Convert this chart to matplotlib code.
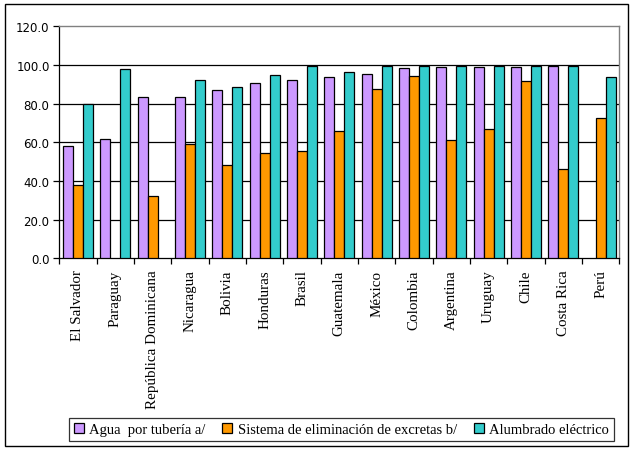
import numpy as np
import matplotlib
matplotlib.use("Agg")
import matplotlib.pyplot as plt
from matplotlib.patches import Rectangle

countries = ["El Salvador", "Paraguay", "República Dominicana", "Nicaragua",
             "Bolivia", "Honduras", "Brasil", "Guatemala", "México", "Colombia",
             "Argentina", "Uruguay", "Chile", "Costa Rica", "Perú"]
agua = [58.1, 61.6, 83.3, 83.3, 87.1, 90.5, 92.1, 93.6, 95.2, 98.3,
        98.8, 98.8, 98.8, 99.3, np.nan]
excretas = [37.8, np.nan, 32.1, 59.0, 48.1, 54.3, 55.3, 65.7, 87.6, 94.1,
            61.0, 66.7, 91.6, 46.0, 72.6]
alumbrado = [79.8, 97.8, np.nan, 92.1, 88.4, 94.7, 99.3, 96.2, 99.3, 99.3,
             99.7, 99.3, 99.7, 99.7, 93.6]
series_names = ["Agua  por tubería a/", "Sistema de eliminación de excretas b/",
                "Alumbrado eléctrico"]
colors = ["#CC99FF", "#FF9900", "#33CCCC"]

fig = plt.figure(figsize=(6.34, 4.52), dpi=100)
ax = fig.add_axes([0.0935, 0.4263, 0.8833, 0.5133])

x = np.arange(len(countries))
w = 0.268
for i, (vals, col, name) in enumerate(zip([agua, excretas, alumbrado], colors, series_names)):
    ax.bar(x + (i - 1) * w, vals, width=w, color=col, edgecolor="black",
           linewidth=0.9, label=name, zorder=3)

ax.set_xlim(-0.5, len(countries) - 0.5)
ax.set_ylim(0, 120)
ax.set_yticks(np.arange(0, 121, 20))
ax.set_yticklabels([f"{v:.1f}" for v in np.arange(0, 121, 20)],
                   fontsize=8.5, family="DejaVu Sans")
for y in range(20, 101, 20):
    ax.axhline(y, color="black", linewidth=0.9, zorder=1)

ax.set_xticks(np.arange(-0.5, len(countries), 1.0))
ax.set_xticklabels([])
ax.set_xticks(x, minor=True)
ax.set_xticklabels(countries, minor=True, rotation=90, fontsize=10.8,
                   family="Liberation Serif", va="top")
ax.tick_params(axis="x", which="major", direction="out", length=4, width=0.9)
ax.tick_params(axis="x", which="minor", length=0, pad=8)
ax.tick_params(axis="y", direction="out", length=4, width=0.9, pad=3)

for side in ["top", "right"]:
    ax.spines[side].set_color("#808080")
    ax.spines[side].set_linewidth(1.0)
for side in ["left", "bottom"]:
    ax.spines[side].set_color("black")
    ax.spines[side].set_linewidth(0.9)

leg = fig.legend(loc="upper left", bbox_to_anchor=(69 / 634, 1 - 419 / 452),
                 ncol=3, frameon=True, fancybox=False,
                 prop={"family": "Liberation Serif", "size": 10.5},
                 handlelength=0.7, handleheight=0.7, handletextpad=0.35,
                 columnspacing=1.15, borderpad=0.33, borderaxespad=0)
leg.get_frame().set_edgecolor("black")
leg.get_frame().set_linewidth(0.9)

fig.patches.append(Rectangle((5 / 634, 1 - 447 / 452), 623 / 634, 442 / 452,
                             transform=fig.transFigure, fill=False,
                             edgecolor="black", linewidth=1.0))

fig.savefig("out.png", dpi=100)
